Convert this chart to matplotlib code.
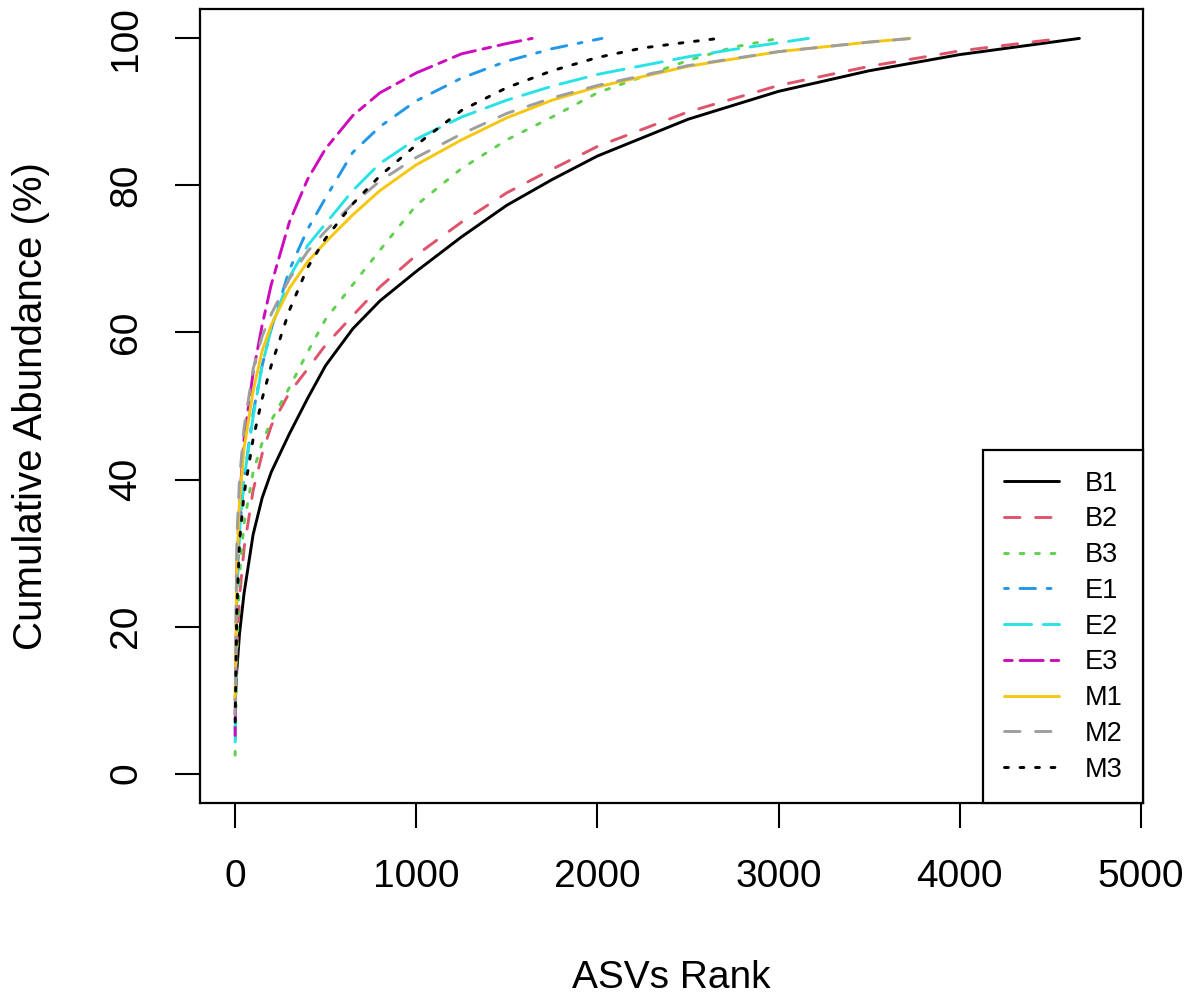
import matplotlib
matplotlib.use("Agg")
import matplotlib.pyplot as plt

plt.rcParams['font.family'] = ['Liberation Sans', 'DejaVu Sans']

# sample names, colours and line types (R palette / lty 1..6)
samples = ["B1", "B2", "B3", "E1", "E2", "E3", "M1", "M2", "M3"]
colors = ["black", "#DF536B", "#61D04F", "#2297E6", "#28E2E5",
          "#CD0BBC", "#F5C710", "#9E9E9E", "black"]

# cumulative abundance (%) against ASV rank
b1_rank = [1, 10, 25, 50, 100, 150, 200, 300, 400, 500, 650, 800, 1000, 1250, 1500, 1750, 2000, 2500, 3000, 3500, 4000, 4660]
b1_pct = [10, 14, 19, 24.5, 32.5, 37.5, 41, 46.2, 51, 55.5, 60.5, 64.3, 68.3, 73, 77.3, 80.8, 84, 89.0, 92.8, 95.6, 97.8, 100]

b2_rank = [1, 10, 25, 50, 100, 150, 200, 300, 400, 500, 650, 800, 1000, 1250, 1500, 1750, 2000, 2500, 3000, 3500, 4000, 4560]
b2_pct = [8, 17, 24, 30.6, 38.5, 43.5, 47.3, 51.8, 55, 58.3, 62.3, 66.2, 70.5, 75, 79, 82.2, 85.3, 90.0, 93.6, 96.2, 98.3, 100]

b3_rank = [1, 10, 25, 50, 100, 150, 200, 300, 400, 500, 650, 800, 1000, 1250, 1500, 1750, 2000, 2500, 2750, 3000]
b3_pct = [2.5, 16, 27, 34, 41, 45, 48, 52.5, 57.3, 61.8, 66.5, 71.2, 77.3, 82.3, 86.2, 89.3, 92.6, 97.0, 98.8, 100]

e1_rank = [1, 10, 25, 50, 100, 150, 200, 300, 400, 500, 650, 800, 1000, 1250, 1500, 1750, 2025]
e1_pct = [6, 25, 33, 40, 49, 55.5, 60.5, 68.5, 74, 78.3, 84.5, 88, 91.5, 94.6, 96.9, 98.6, 100]

e2_rank = [1, 10, 25, 50, 100, 150, 200, 300, 400, 500, 650, 800, 1000, 1250, 1500, 1750, 2000, 2500, 2750, 3165]
e2_pct = [4.3, 24, 33, 40, 48.5, 55.5, 60.5, 67.5, 71.8, 74.8, 79.3, 83, 86.3, 89.3, 91.6, 93.5, 95.1, 97.5, 98.5, 100]

e3_rank = [1, 10, 25, 50, 100, 150, 200, 300, 400, 500, 650, 800, 1000, 1250, 1500, 1640]
e3_pct = [5.2, 28, 37, 45.5, 54.5, 61, 66.5, 75, 80.8, 85, 89.5, 92.6, 95.3, 97.9, 99.3, 100]

m1_rank = [1, 10, 25, 50, 100, 150, 200, 300, 400, 500, 650, 800, 1000, 1250, 1500, 1750, 2000, 2500, 3000, 3500, 3725]
m1_pct = [10, 28, 37, 44.2, 52, 57.5, 61, 66, 69.6, 72.3, 76, 79.3, 82.8, 86.2, 89.2, 91.6, 93.4, 96.2, 98.2, 99.5, 100]

m2_rank = [1, 10, 25, 50, 100, 150, 200, 300, 400, 500, 650, 800, 1000, 1250, 1500, 1750, 2000, 2500, 3000, 3500, 3735]
m2_pct = [8, 32, 40, 47, 55, 59.5, 62.5, 67.3, 71, 73.8, 77.5, 80.6, 83.8, 87, 89.8, 91.9, 93.6, 96.3, 98.2, 99.5, 100]

m3_rank = [1, 10, 25, 50, 100, 150, 200, 300, 400, 500, 650, 800, 1000, 1250, 1500, 1750, 2000, 2250, 2500, 2670]
m3_pct = [7, 22, 31.5, 38, 45.5, 51, 55.5, 63, 68.8, 72.8, 77.5, 81.3, 85.5, 90.2, 93.3, 95.6, 97.4, 98.7, 99.5, 100]

ranks = [b1_rank, b2_rank, b3_rank, e1_rank, e2_rank, e3_rank, m1_rank, m2_rank, m3_rank]
pcts = [b1_pct, b2_pct, b3_pct, e1_pct, e2_pct, e3_pct, m1_pct, m2_pct, m3_pct]

x_ticks = [0, 1000, 2000, 3000, 4000, 5000]
y_ticks = [0, 20, 40, 60, 80, 100]

# R lty 1..6 as dash patterns (scaled to line width)
k = 1.33
ltys = ['-', (0, (4 * k, 4 * k)), (0, (1 * k, 3 * k)), (0, (1 * k, 3 * k, 4 * k, 3 * k)),
        (0, (7 * k, 3 * k)), (0, (2 * k, 2 * k, 6 * k, 2 * k))]

fig = plt.figure(figsize=(11.95, 9.98), dpi=100)
ax = fig.add_axes([200 / 1195, 1 - 803 / 998, 943 / 1195, 794 / 998])

for i, name in enumerate(samples):
    ax.plot(ranks[i], pcts[i], color=colors[i], linestyle=ltys[i % 6], lw=2.1,
            dash_capstyle='round', solid_capstyle='round', solid_joinstyle='round',
            label=name)

ax.set_xlim(-193, 5011)
ax.set_ylim(-4, 104)
ax.set_xticks(x_ticks)
ax.set_yticks(y_ticks)
ax.set_xticklabels([str(t) for t in x_ticks])
ax.set_yticklabels([str(t) for t in y_ticks], rotation=90, va='center')

for s in ax.spines.values():
    s.set_linewidth(1.6)
ax.tick_params(axis='both', length=18, width=1.5, labelsize=28)
ax.tick_params(axis='x', pad=22)
ax.tick_params(axis='y', pad=22)

ax.set_xlabel("ASVs Rank", fontsize=28)
ax.set_ylabel("Cumulative Abundance (%)", fontsize=29)
ax.xaxis.set_label_coords(0.5, -0.198)
ax.yaxis.set_label_coords(-0.159, 0.5)

leg = ax.legend(loc='lower right', borderaxespad=0, fontsize=19.5, fancybox=False,
                edgecolor='black', framealpha=1, borderpad=0.75, labelspacing=0.36,
                handlelength=2.04, handletextpad=0.96)
leg.get_frame().set_linewidth(1.6)

fig.savefig("out.png", dpi=100)
